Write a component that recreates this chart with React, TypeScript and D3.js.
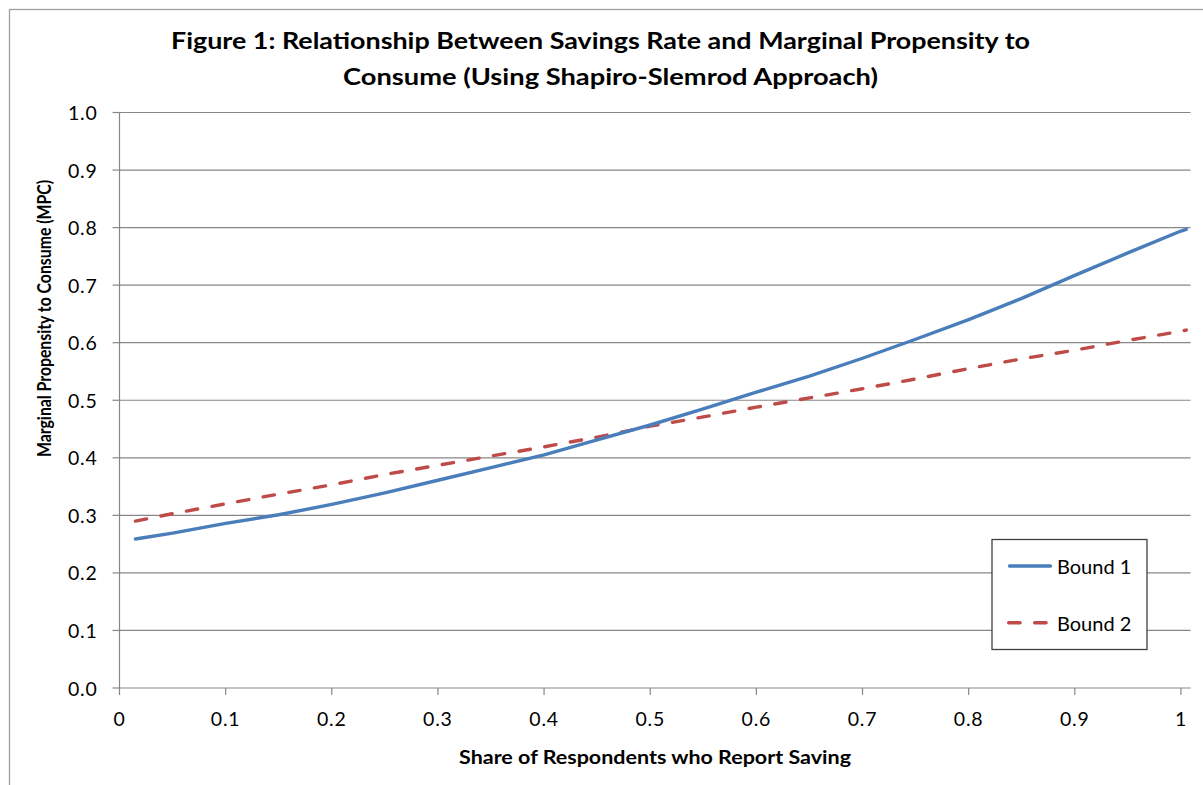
import React from "react";
import * as d3 from "d3";

const shareSaving = [0.015, 0.05, 0.1, 0.15, 0.2, 0.25, 0.3, 0.35, 0.4, 0.45, 0.5, 0.55, 0.6, 0.65, 0.7, 0.75, 0.8, 0.85, 0.9, 0.95, 1.0, 1.005];
const bound1 = [0.259, 0.269, 0.286, 0.301, 0.319, 0.339, 0.361, 0.383, 0.405, 0.431, 0.457, 0.485, 0.514, 0.542, 0.573, 0.606, 0.64, 0.677, 0.717, 0.756, 0.794, 0.797];
const bound2 = [0.29, 0.303, 0.32, 0.337, 0.353, 0.371, 0.387, 0.403, 0.419, 0.436, 0.455, 0.471, 0.488, 0.504, 0.52, 0.537, 0.555, 0.572, 0.587, 0.604, 0.62, 0.622];
const xTicks = [0, 0.1, 0.2, 0.3, 0.4, 0.5, 0.6, 0.7, 0.8, 0.9, 1];
const xTickLabels = ["0", "0.1", "0.2", "0.3", "0.4", "0.5", "0.6", "0.7", "0.8", "0.9", "1"];
const yTicks = [0, 0.1, 0.2, 0.3, 0.4, 0.5, 0.6, 0.7, 0.8, 0.9, 1.0];
const seriesNames = ["Bound 1", "Bound 2"];
const titleLines = [
  "Figure 1: Relationship Between Savings Rate and Marginal Propensity to",
  "Consume (Using Shapiro-Slemrod Approach)",
];
const xTitle = "Share of Respondents who Report Saving";
const yTitle = "Marginal Propensity to Consume (MPC)";

const BLUE = "#4A7EBB";
const RED = "#BE4B48";
const GRID = "#878787";
const FONT = "Lato, 'Open Sans', sans-serif";

export default function App() {
  const left = 119.5;
  const right = 1190.5;
  const top = 112.5;
  const bottom = 688;
  const x = d3.scaleLinear().domain([0, 1.009]).range([left, right]);
  const y = d3.scaleLinear().domain([0, 1]).range([bottom, top]);

  const line = d3
    .line<number>()
    .x((_, i) => x(shareSaving[i]))
    .y((d) => y(d));

  return (
    <svg
      width={1203}
      height={785}
      style={{ position: "absolute", left: 0, top: 0, display: "block", background: "#fff" }}
    >
      <rect x={0} y={0} width={1203} height={785} fill="#fff" />
      <rect x={9.5} y={9.5} width={1210} height={800} fill="#fff" stroke="#a0a0a0" strokeWidth={1.3} />

      {/* title */}
      <text x={171} y={48.5} textLength={859} lengthAdjust="spacingAndGlyphs" fontFamily={FONT} fontWeight={700} fontSize={23.5} fill="#000">
        {titleLines[0]}
      </text>
      <text x={343} y={85} textLength={535} lengthAdjust="spacingAndGlyphs" fontFamily={FONT} fontWeight={700} fontSize={23.5} fill="#000">
        {titleLines[1]}
      </text>

      {/* gridlines */}
      {yTicks.slice(1).map((t) => (
        <line key={"g" + t} x1={left} x2={right} y1={y(t)} y2={y(t)} stroke={GRID} strokeWidth={1.2} />
      ))}
      {/* y axis */}
      <line x1={left} x2={left} y1={top} y2={bottom} stroke={GRID} strokeWidth={1.2} />
      {yTicks.map((t) => (
        <g key={"y" + t}>
          <line x1={left - 7} x2={left} y1={y(t)} y2={y(t)} stroke={GRID} strokeWidth={1.2} />
          <text x={97.5} y={y(t) + 7.5} textAnchor="end" fontFamily={FONT} fontSize={19.5} letterSpacing={0.8} fill="#000">
            {t.toFixed(1)}
          </text>
        </g>
      ))}
      {/* x axis */}
      <line x1={left} x2={right} y1={bottom} y2={bottom} stroke={GRID} strokeWidth={1.2} />
      {xTicks.map((t, i) => (
        <g key={"x" + t}>
          <line x1={x(t)} x2={x(t)} y1={bottom} y2={bottom + 7} stroke={GRID} strokeWidth={1.2} />
          <text x={x(t)} y={726} textAnchor="middle" fontFamily={FONT} fontSize={19.5} letterSpacing={0.8} fill="#000">
            {xTickLabels[i]}
          </text>
        </g>
      ))}

      {/* axis titles */}
      <text x={655} y={764} textAnchor="middle" textLength={392} lengthAdjust="spacingAndGlyphs" fontFamily={FONT} fontWeight={700} fontSize={18.5} fill="#000">
        {xTitle}
      </text>
      <text
        transform={`translate(50.5,318.5) rotate(-90)`}
        textAnchor="middle"
        textLength={277}
        lengthAdjust="spacingAndGlyphs"
        fontFamily={FONT}
        fontWeight={700}
        fontSize={19.5}
        fill="#000"
      >
        {yTitle}
      </text>

      {/* series */}
      <path d={line(bound2) || ""} fill="none" stroke={RED} strokeWidth={3.4} strokeDasharray="11.4 14.6" strokeLinecap="round" />
      <path d={line(bound1) || ""} fill="none" stroke={BLUE} strokeWidth={3.4} strokeLinecap="round" strokeLinejoin="round" />

      {/* legend */}
      <rect x={992} y={539.5} width={155} height={110} fill="#fff" stroke="#404040" strokeWidth={1.3} />
      <line x1={1009.5} x2={1050.5} y1={566} y2={566} stroke={BLUE} strokeWidth={3.4} strokeLinecap="round" />
      <text x={1057} y={574} fontFamily={FONT} fontSize={20} fill="#000">{seriesNames[0]}</text>
      <line x1={1008.7} x2={1046.1} y1={622.7} y2={622.7} stroke={RED} strokeWidth={3.4} strokeDasharray="11.4 14.6" strokeLinecap="round" />
      <text x={1057} y={630.7} fontFamily={FONT} fontSize={20} fill="#000">{seriesNames[1]}</text>
    </svg>
  );
}
